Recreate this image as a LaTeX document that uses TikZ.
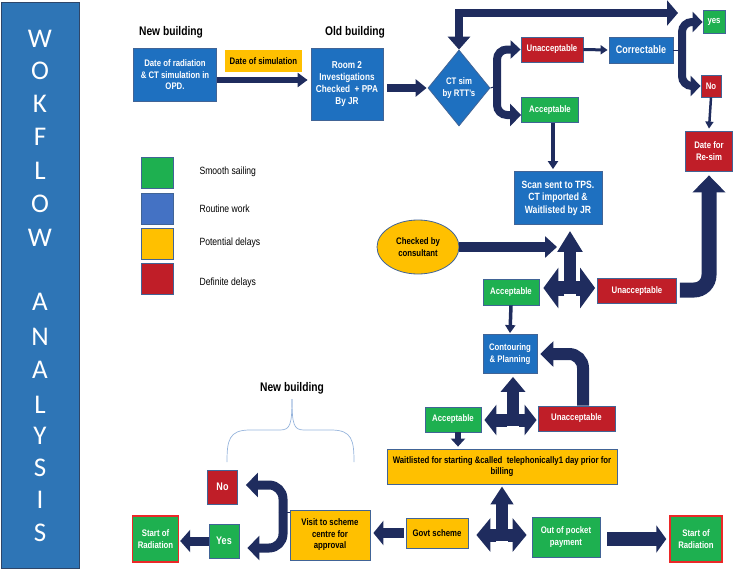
\documentclass[tikz,border=0pt]{standalone}
\usepackage{fontspec}
\setmainfont{Liberation Sans}[FakeStretch=0.82]
\newfontfamily\bannerfont{Carlito}
\usetikzlibrary{arrows.meta,shapes.geometric}
\definecolor{routineblue}{RGB}{30,112,192}
\definecolor{keyblue}{RGB}{68,114,196}
\definecolor{okgreen}{RGB}{30,176,80}
\definecolor{delayyellow}{RGB}{255,192,0}
\definecolor{badred}{RGB}{192,30,40}
\definecolor{navy}{RGB}{31,44,94}
\definecolor{edge}{RGB}{65,100,150}
\definecolor{radred}{RGB}{235,40,40}
\definecolor{bannerblue}{RGB}{46,117,182}
\definecolor{bracecol}{RGB}{150,180,220}
\tikzset{
  box/.style={draw=edge, line width=0.8pt, align=center, text=white, inner sep=1pt,
    font=\bfseries\fontsize{9.5}{11.5}\selectfont},
  routinebox/.style={box, fill=routineblue},
  okbox/.style={box, fill=okgreen},
  delaybox/.style={box, fill=delayyellow, text=black},
  badbox/.style={box, fill=badred},
  radbox/.style={okbox, draw=radred, line width=1.4pt},
  heading/.style={font=\bfseries\fontsize{12.5}{14}\selectfont},
  keybox/.style={draw=edge, line width=1pt, minimum width=32pt, minimum height=31pt},
  keytext/.style={anchor=west, font=\fontsize{10.5}{12}\selectfont},
  bannerletter/.style={text=white, font=\bannerfont\fontsize{27}{27}\selectfont}
}
\begin{document}
\begin{tikzpicture}[x=1pt,y=-1pt]
\useasboundingbox (0,0) rectangle (734,570);
\filldraw[fill=bannerblue, draw=edge!70!black, line width=1pt] (1,2) rectangle (79,568);
\foreach \ch/\y in {W/39,O/71,K/104,F/137,L/171,O/204,W/238,A/302,N/337,A/370,L/405,Y/436,S/468,I/500,S/533}
  \node[bannerletter] (ltr\y) at (40,\y) {\ch};
\node[heading] (newtop) at (171,32) {New building};
\node[heading] (oldtop) at (355,32) {Old building};
\node[heading] (newlow) at (292,388) {New building};
\node[routinebox, minimum width=83pt, minimum height=53pt] (date) at (175,75) {Date of radiation\\\& CT simulation in\\OPD.};
\node[box, fill=delayyellow, draw=none, text=black, minimum width=77pt, minimum height=22pt] (datesim) at (263.5,61) {Date of simulation};
\node[routinebox, minimum width=72pt, minimum height=72pt, font=\bfseries\fontsize{10}{12}\selectfont] (room) at (347,84) {Room 2\\Investigations\\Checked\ \ + PPA\\By JR};
\node[routinebox, diamond, inner sep=0pt, minimum width=62pt, minimum height=76pt] (ctsim) at (459,88) {CT sim\\by RTT's};
\node[badbox, minimum width=62pt, minimum height=25pt] (unacc1) at (552,49.5) {Unacceptable};
\node[routinebox, minimum width=64pt, minimum height=26pt, font=\bfseries\fontsize{11}{13}\selectfont] (correct) at (641,50) {Correctable};
\node[okbox, minimum width=57pt, minimum height=25pt] (acc1) at (550,110) {Acceptable};
\node[okbox, minimum width=22pt, minimum height=23pt] (yes) at (714,22) {yes};
\node[badbox, minimum width=20pt, minimum height=22pt] (no1) at (711,86) {No};
\node[badbox, minimum width=47pt, minimum height=40pt] (resim) at (709,151) {Date for\\Re-sim};
\node[routinebox, minimum width=88pt, minimum height=53pt, font=\bfseries\fontsize{10.5}{12.5}\selectfont] (scan) at (558,198) {Scan sent to TPS.\\CT imported \&\\Waitlisted by JR};
\node[delaybox, ellipse, inner sep=0pt, minimum width=82pt, minimum height=54pt] (consult) at (418,247) {Checked by\\consultant};
\node[okbox, minimum width=56pt, minimum height=26pt] (acc2) at (511,292) {Acceptable};
\node[badbox, minimum width=79pt, minimum height=25pt] (unacc2) at (637,291) {Unacceptable};
\node[routinebox, minimum width=54pt, minimum height=39pt] (contour) at (510,354) {Contouring\\\& Planning};
\node[okbox, minimum width=56pt, minimum height=25pt] (acc3) at (453,419.5) {Acceptable};
\node[badbox, minimum width=77pt, minimum height=25pt] (unacc3) at (576.5,418.5) {Unacceptable};
\node[delaybox, minimum width=230pt, minimum height=35pt] (wait) at (502,466.5) {Waitlisted for starting \&called\ \ telephonically1 day prior for\\billing};
\node[delaybox, minimum width=62pt, minimum height=30pt] (govt) at (437,533) {Govt scheme};
\node[okbox, minimum width=68pt, minimum height=40pt] (pocket) at (566,537) {Out of pocket\\payment};
\node[radbox, minimum width=52pt, minimum height=46pt] (start2) at (696,539) {Start of\\Radiation};
\node[delaybox, minimum width=80pt, minimum height=50pt] (visit) at (330,535) {Visit to scheme\\centre for\\approval};
\node[badbox, minimum width=30pt, minimum height=34pt, font=\bfseries\fontsize{11}{13}\selectfont] (no2) at (222.5,487) {No};
\node[okbox, minimum width=30pt, minimum height=34pt, font=\bfseries\fontsize{11}{13}\selectfont] (yes2) at (224,541) {Yes};
\node[radbox, minimum width=46pt, minimum height=46pt] (start1) at (155.5,539) {Start of\\Radiation};
\foreach \col/\txt/\y/\ty [count=\i] in {okgreen/Smooth sailing/172.5/172, keyblue/Routine work/209/209, delayyellow/Potential delays/243.5/243, badred/Definite delays/279/283} {
  \node[keybox, fill=\col] (key\i) at (157,\y) {};
  \node[keytext] (keytxt\i) at (196,\ty) {\txt};
}
\draw[bracecol, line width=0.7pt] (227,462) .. controls (227,440) and (229,430) .. (250,430) -- (280,430) .. controls (290,430) and (292,425) .. (292,399);
\draw[bracecol, line width=0.7pt] (354,462) .. controls (354,440) and (352,430) .. (331,430) -- (304,430) .. controls (294,430) and (292,425) .. (292,399);
\coordinate (loopend) at (678,13);
\coordinate (b1) at (497,86);
\coordinate (b2) at (682,50);
\coordinate (b3) at (283,512);
\coordinate (hub1) at (570,288);
\coordinate (hub2) at (513,420);
\coordinate (hub3) at (502,535);
\draw[navy, line width=6pt, -{Triangle[width=14pt,length=10pt]}] ([yshift=-5pt]date.east) -- ([xshift=-3pt,yshift=4pt]room.west);
\draw[navy, line width=8pt, -{Triangle[width=17pt,length=11pt]}] ([xshift=4pt,yshift=-4pt]room.east) -- ([xshift=-1pt]ctsim.west);
\draw[navy, line width=8pt, {Triangle[width=22pt,length=13pt]}-{Triangle[width=25pt,length=11pt]}] (ctsim.north) |- (loopend);
\draw[navy, line width=1pt] (ctsim.east) -- (b1);
\draw[navy, line width=8pt, rounded corners=10pt, -{Triangle[width=18pt,length=10pt]}] (b1) |- (unacc1.west);
\draw[navy, line width=8pt, rounded corners=10pt, -{Triangle[width=22pt,length=11pt]}] (b1) |- ([yshift=-5pt]acc1.west);
\draw[navy, line width=3pt, -{Triangle[width=9pt,length=7pt]}] (unacc1.east) -- ([xshift=-1pt]correct.west);
\draw[navy, line width=1pt] (correct.east) -- (b2);
\draw[navy, line width=8pt, rounded corners=10pt, -{Triangle[width=20pt,length=10pt]}] (b2) |- (yes.west);
\draw[navy, line width=8pt, rounded corners=10pt, -{Triangle[width=20pt,length=10pt]}] (b2) |- (no1.west);
\draw[navy, line width=2.5pt, -{Triangle[width=8pt,length=7pt]}] (no1.south) -- ([yshift=2pt]resim.north);
\draw[navy, line width=3.5pt, -{Triangle[width=10pt,length=8pt]}] ([xshift=3pt]acc1.south) -- ([xshift=3pt,yshift=2pt]acc1.south |- scan.north);
\draw[navy, line width=10pt, -{Triangle[width=21pt,length=12pt]}] (consult.east) -- ([xshift=-1pt]scan.south |- consult.east);
\draw[navy, line width=12pt, -{Triangle[width=24pt,length=21pt]}] ([yshift=-6pt]hub1) -- ([yshift=-6pt]hub1 |- scan.south);
\draw[navy, line width=15pt, -{Triangle[width=40pt,length=15pt]}] ([xshift=-6pt]hub1) -- ([xshift=4pt]hub1 -| acc2.east);
\draw[navy, line width=15pt, -{Triangle[width=40pt,length=15pt]}] ([xshift=6pt]hub1) -- ([xshift=-2pt]hub1 -| unacc2.west);
\draw[navy, line width=15pt, rounded corners=15pt, -{Triangle[width=32pt,length=17pt]}] ([xshift=3pt,yshift=1pt]unacc2.east) -| ([yshift=-4pt]resim.south);
\draw[navy, line width=3.5pt, -{Triangle[width=10pt,length=8pt]}] (acc2.south) -- ([yshift=1pt]contour.north);
\draw[navy, line width=12pt, -{Triangle[width=24pt,length=15pt]}] ([yshift=-6pt]hub2) -- ([yshift=-3pt]hub2 |- contour.south);
\draw[navy, line width=13pt, -{Triangle[width=30pt,length=12pt]}] ([xshift=-6pt]hub2) -- ([xshift=3pt]hub2 -| acc3.east);
\draw[navy, line width=13pt, -{Triangle[width=30pt,length=12pt]}] ([xshift=6pt]hub2) -- ([xshift=-1pt]hub2 -| unacc3.west);
\draw[navy, line width=12pt, rounded corners=14pt, -{Triangle[width=25pt,length=13pt]}] ([xshift=6.5pt]unacc3.north) |- ([xshift=3pt]contour.east);
\draw[navy, line width=6pt, -{Triangle[width=14pt,length=8pt]}] ([xshift=5pt]acc3.south) -- ([xshift=5pt,yshift=2pt]acc3.south |- wait.north);
\draw[navy, line width=12pt, -{Triangle[width=22pt,length=18pt]}] ([yshift=-6pt]hub3) -- ([yshift=-2pt]hub3 |- wait.south);
\draw[navy, line width=13pt, -{Triangle[width=33pt,length=14pt]}] ([xshift=-6pt]hub3) -- ([xshift=8pt]hub3 -| govt.east);
\draw[navy, line width=13pt, -{Triangle[width=33pt,length=14pt]}] ([xshift=6pt]hub3) -- ([xshift=-5pt]hub3 -| pocket.west);
\draw[navy, line width=14pt, -{Triangle[width=27pt,length=10pt]}] ([xshift=7pt,yshift=-2pt]pocket.east) -- ([xshift=-3pt,yshift=-2pt]pocket.east -| start2.west);
\draw[navy, line width=10pt, -{Triangle[width=24pt,length=10pt]}] ([xshift=-2pt]govt.west) -- ([xshift=3pt]govt.west -| visit.east);
\draw[navy, line width=1pt] (b3) -- (b3 -| visit.west);
\draw[navy, line width=9pt, rounded corners=14pt, -{Triangle[width=24pt,length=12pt]}] (b3) |- ([xshift=8pt,yshift=2pt]no2.east);
\draw[navy, line width=9pt, rounded corners=14pt, -{Triangle[width=24pt,length=12pt]}] (b3) |- ([xshift=8pt,yshift=-7pt]yes2.east);
\draw[navy, line width=9pt, -{Triangle[width=22pt,length=10pt]}] (yes2.west) -- ([xshift=1pt]yes2.west -| start1.east);
\end{tikzpicture}
\end{document}
